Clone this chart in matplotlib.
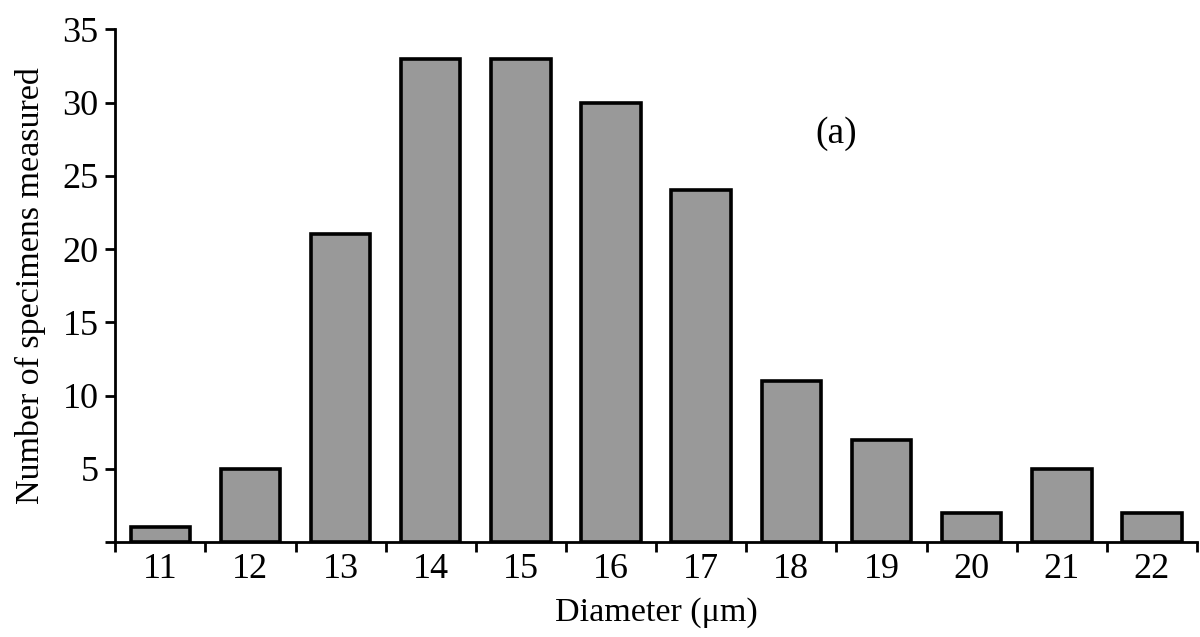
import matplotlib

matplotlib.use("Agg")
import matplotlib.pyplot as plt

diameters = [11, 12, 13, 14, 15, 16, 17, 18, 19, 20, 21, 22]
counts = [1, 5, 21, 33, 33, 30, 24, 11, 7, 2, 5, 2]
y_ticks = [5, 10, 15, 20, 25, 30, 35]

plt.rcParams["font.family"] = ["Liberation Serif", "DejaVu Serif"]

fig = plt.figure(figsize=(12, 6.37), dpi=100)
ax = fig.add_axes([0.096, 0.149, 0.9015, 0.805])

ax.bar(diameters, counts, width=0.66, color="#999999", edgecolor="black", linewidth=2.6)

ax.set_xlim(10.5, 22.5)
ax.set_ylim(0, 35)
ax.set_yticks([0] + y_ticks)
ax.set_yticklabels([""] + [str(v) for v in y_ticks])
ax.set_xticks(diameters)
ax.set_xticks([d + 0.5 for d in [10] + diameters], minor=True)
ax.tick_params(axis="x", which="major", length=0, pad=8, labelsize=26)
ax.tick_params(axis="x", which="minor", length=7, width=2, direction="out")
ax.tick_params(axis="y", length=7, width=2, direction="out", labelsize=26, pad=5)

for side in ("top", "right"):
    ax.spines[side].set_visible(False)
ax.spines["left"].set_linewidth(2)
ax.spines["bottom"].set_linewidth(2)

ax.set_xlabel("Diameter (\u03bcm)", fontsize=24.5, labelpad=8)
ax.set_ylabel("Number of specimens measured", fontsize=24.5, labelpad=12)
ax.text(18.5, 27.9, "(a)", fontsize=27, ha="center", va="center")

fig.savefig("out.png", dpi=100)
